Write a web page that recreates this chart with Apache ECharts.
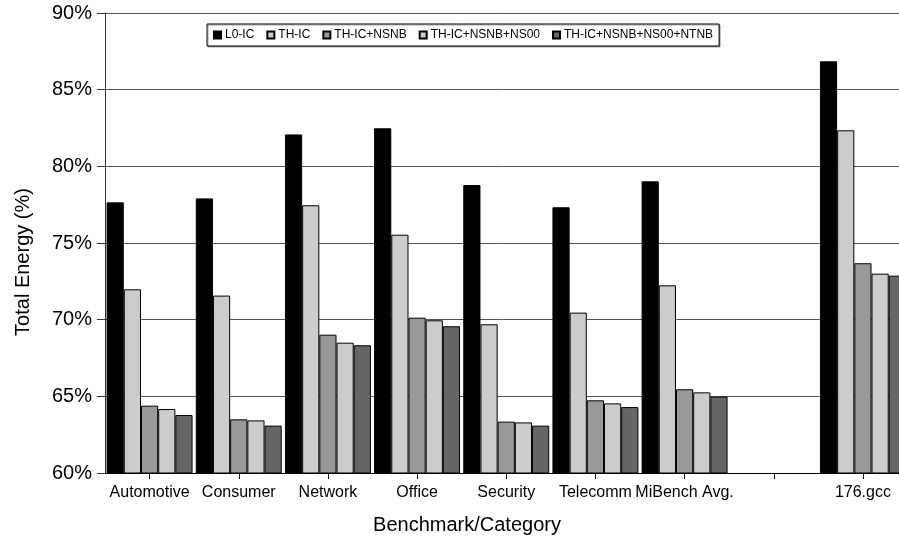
<!DOCTYPE html>
<html>
<head>
<meta charset="utf-8">
<script src="https://cdn.jsdelivr.net/npm/echarts@6/dist/echarts.min.js"></script>
<style>
  html, body { margin: 0; padding: 0; background: #fff; }
  #chart { width: 899px; height: 540px; }
</style>
</head>
<body>
<div id="chart"></div>
<script>
// Benchmark categories (the blank slot separates the MiBench group from 176.gcc)
const categories = ['Automotive', 'Consumer', 'Network', 'Office', 'Security', 'Telecomm', 'MiBench Avg.', '', '176.gcc'];

// Total energy (%) per configuration
const l0ic          = [77.65, 77.91, 82.08, 82.48, 78.78, 77.33, 79.02, null, 86.85];
const thic          = [71.98, 71.57, 77.46, 75.54, 69.70, 70.46, 72.24, null, 82.35];
const thicNsnb      = [64.39, 63.50, 69.02, 70.13, 63.35, 64.74, 65.46, null, 73.68];
const thicNsnbNs00  = [64.17, 63.43, 68.50, 69.96, 63.30, 64.54, 65.26, null, 73.00];
const thicAll       = [63.78, 63.09, 68.33, 69.57, 63.09, 64.30, 64.98, null, 72.87];

const seriesNames = ['L0-IC', 'TH-IC', 'TH-IC+NSNB', 'TH-IC+NSNB+NS00', 'TH-IC+NSNB+NS00+NTNB'];
const seriesValues = [l0ic, thic, thicNsnb, thicNsnbNs00, thicAll];
const seriesColors = ['#000000', '#cccccc', '#999999', '#cccccc', '#666666'];

// Y-axis ticks
const yMin = 60, yMax = 90, yStep = 5;

const FONT = 'Liberation Sans, Arial, sans-serif';

const chart = echarts.init(document.getElementById('chart'), null, { renderer: 'canvas' });

chart.setOption({
  animation: false,
  backgroundColor: '#ffffff',
  textStyle: { fontFamily: FONT },
  // plot area runs slightly past the right edge of the canvas
  grid: { left: 105, right: -8.5, top: 13, bottom: 67, containLabel: false, outerBoundsMode: 'none' },
  legend: {
    data: seriesNames,
    left: 207,
    top: 24,
    orient: 'horizontal',
    icon: 'rect',
    itemWidth: 7,
    itemHeight: 7,
    itemGap: 12,
    padding: [5, 6, 5, 6],
    borderColor: '#000',
    borderWidth: 1,
    backgroundColor: '#fff',
    shadowColor: 'rgba(0,0,0,0.35)',
    shadowOffsetX: 1,
    shadowOffsetY: 1,
    textStyle: { fontSize: 12, color: '#000', fontFamily: FONT, padding: [0, 0, 0, -1] }
  },
  xAxis: {
    type: 'category',
    data: categories,
    boundaryGap: true,
    axisLine: { show: true, lineStyle: { color: '#000', width: 1 } },
    axisTick: { show: true, alignWithLabel: true, length: 6, lineStyle: { color: '#000' } },
    axisLabel: { interval: 0, fontSize: 16, color: '#000', margin: 12, fontFamily: FONT },
    splitLine: { show: false }
  },
  yAxis: {
    type: 'value',
    min: yMin,
    max: yMax,
    interval: yStep,
    axisLine: { show: true, lineStyle: { color: '#333', width: 1 } },
    axisTick: { show: true, length: 8, lineStyle: { color: '#333' } },
    axisLabel: { formatter: '{value}%', fontSize: 20, color: '#000', margin: 13, fontFamily: FONT },
    splitLine: { show: true, lineStyle: { color: '#555', width: 1 } }
  },
  series: seriesNames.map((name, i) => ({
    name: name,
    type: 'bar',
    data: seriesValues[i],
    barGap: '0%',
    barCategoryGap: '3.6%',
    itemStyle: { color: seriesColors[i], borderColor: '#000', borderWidth: 1 }
  })),
  graphic: [
    {
      type: 'text',
      x: 23, y: 262,
      rotation: Math.PI / 2,
      style: {
        text: 'Total Energy (%)',
        fontSize: 20,
        fontFamily: FONT,
        fill: '#000',
        align: 'center',
        verticalAlign: 'middle'
      }
    },
    {
      type: 'text',
      x: 467, y: 525,
      style: {
        text: 'Benchmark/Category',
        fontSize: 20,
        fontFamily: FONT,
        fill: '#000',
        align: 'center',
        verticalAlign: 'middle'
      }
    }
  ]
});
</script>
</body>
</html>
